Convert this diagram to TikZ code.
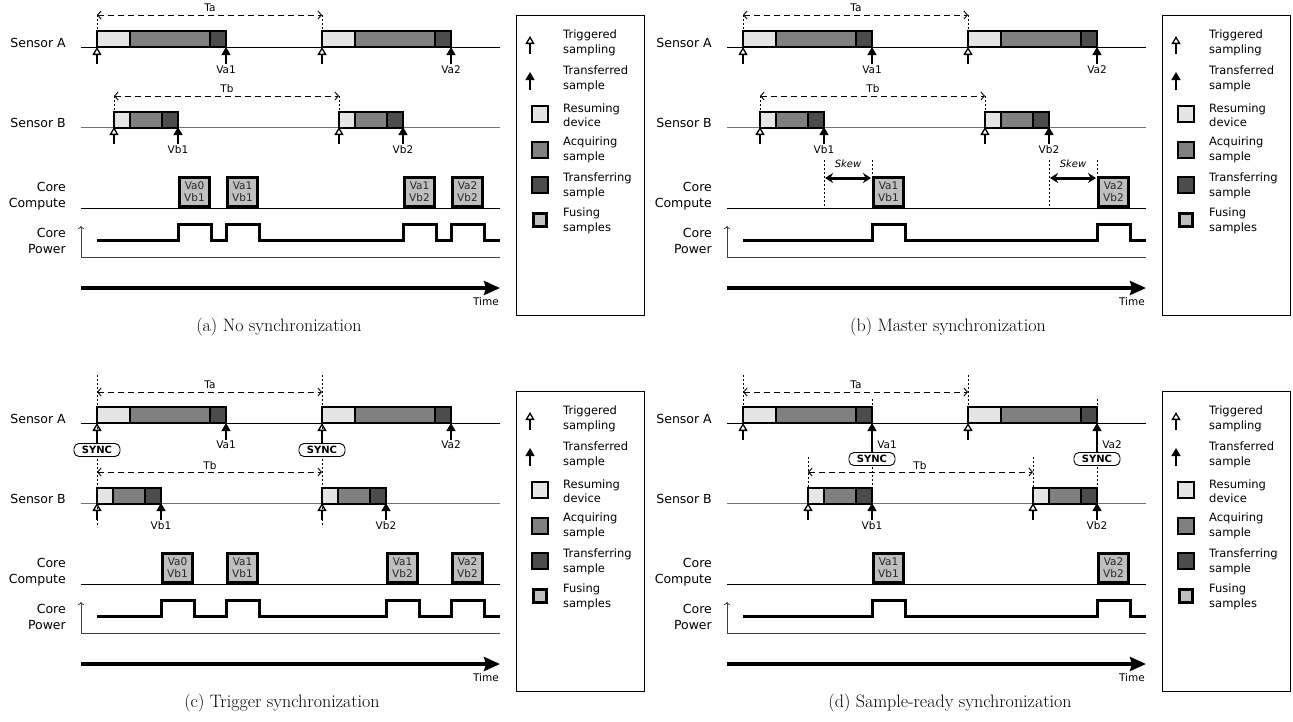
\documentclass[tikz,border=0pt]{standalone}
\usepackage{fontspec}
\newfontfamily\dv{DejaVu Sans}
\usetikzlibrary{arrows.meta}
\tikzset{
  lbl/.style={font=\dv\fontsize{12.5}{15.5}\selectfont, anchor=east, align=right, inner sep=0pt},
  small/.style={font=\dv\fontsize{10.5}{12}\selectfont, inner sep=0pt},
  leg/.style={font=\dv\fontsize{11.5}{14.5}\selectfont, anchor=west, align=left, inner sep=0pt},
  seg/.style={draw=black, line width=1.3pt},
  resume/.style={seg, fill=black!10},
  acquire/.style={seg, fill=black!50},
  transfer/.style={seg, fill=black!70},
  fuse/.style={draw=black, line width=3pt, fill=black!25},
  fusetxt/.style={font=\dv\fontsize{10.5}{12}\selectfont, align=center, text=black!85, inner sep=0pt},
  trig/.style={-{Triangle[open, length=8pt, width=9pt]}, line width=1.3pt},
  xfer/.style={-{Triangle[length=8pt, width=9pt]}, line width=1.3pt},
  period/.style={dash pattern=on 6pt off 4pt, {Straight Barb[length=3.5pt,width=8pt]}-{Straight Barb[length=3.5pt,width=8pt]}, line width=0.9pt},
  vdot/.style={dash pattern=on 2pt off 2pt, line width=1pt},
  power/.style={line width=3pt},
  sync/.style={draw, line width=0.9pt, rounded corners=5pt, font=\dv\bfseries\fontsize{10}{11}\selectfont, inner sep=0pt, minimum width=46pt, minimum height=13pt, fill=white},
  skew/.style={{Stealth[length=8pt,width=10pt]}-{Stealth[length=8pt,width=10pt]}, line width=3pt},
  skewtxt/.style={font=\dv\itshape\fontsize{10}{11}\selectfont, inner sep=0pt},
  caption/.style={font=\fontsize{18}{21}\selectfont},
}
\newcommand\sensA[1]{%
  \draw[resume] (#1,31) rectangle ++(33,16);
  \draw[acquire] (#1+33,31) rectangle ++(80,16);
  \draw[transfer] (#1+113,31) rectangle ++(16,16);}
\newcommand\sensB[1]{%
  \draw[resume] (#1,112) rectangle ++(16,16);
  \draw[acquire] (#1+16,112) rectangle ++(32,16);
  \draw[transfer] (#1+48,112) rectangle ++(16,16);}
\newcommand\fusing[3]{%
  \draw[fuse] (#1+1.5,177.5) rectangle (#1+31.5,206.5);
  \node[fusetxt] at (#1+16.5,192) {#2\\#3};}
\newcommand\legendbox{%
  \draw[line width=1pt] (516,15) rectangle (644,315);
  \draw[trig] (530,54) -- (530,36);
  \node[leg] at (563,43) {Triggered\\sampling};
  \draw[xfer] (530,90) -- (530,72);
  \node[leg] at (563,79) {Transferred\\sample};
  \draw[resume] (532,106) rectangle ++(16,16);
  \node[leg] at (563,115) {Resuming\\device};
  \draw[acquire] (532,142) rectangle ++(16,16);
  \node[leg] at (563,150) {Acquiring\\sample};
  \draw[transfer] (532,177) rectangle ++(16,16);
  \node[leg] at (563,186) {Transferring\\sample};
  \draw[fuse, line width=3pt] (533.5,213.5) rectangle ++(13,13);
  \node[leg] at (563,221) {Fusing\\samples};}
\newcommand\panelframe{%
  \node[lbl] (la) at (66,43) {Sensor A};
  \node[lbl] (lb) at (66,123) {Sensor B};
  \node[lbl] (lc) at (66,196) {Core\\Compute};
  \node[lbl] (lp) at (66,241) {Core\\Power};
  \draw[line width=0.8pt] (81,47) -- (500,47);
  \draw[line width=0.8pt, black!55] (81,127) -- (500,127);
  \draw[line width=0.8pt] (81,208) -- (500,208);
  \draw[line width=0.8pt, black!75] (81,257) -- (500,257);
  \draw[line width=0.8pt, black!75, -{To[length=3pt,width=6pt]}] (81,257) -- (81,226);
  \draw[line width=4pt, -{Stealth[length=16pt,width=14pt,inset=2pt]}] (81,288) -- (500,288);
  \node[small, anchor=east] (tm) at (499,302) {Time};
  \legendbox}
\begin{document}
\begin{tikzpicture}[x=1pt,y=-1pt]
\useasboundingbox (0,0) rectangle (1293,721);
% ---------------- (a) ----------------
\begin{scope}
  \panelframe
  \draw[vdot] (97,15) -- (97,31); \draw[vdot] (322,15) -- (322,31);
  \draw[period] (97,15) -- (322,15); \node[small] at (210,8) {Ta};
  \sensA{97} \sensA{322}
  \draw[trig] (97,64) -- (97,47); \draw[trig] (322,64) -- (322,47);
  \draw[xfer] (226,64) -- (226,47); \node[small] at (226,70) {Va1};
  \draw[xfer] (451,64) -- (451,47); \node[small] at (451,70) {Va2};
  \draw[vdot] (114,96) -- (114,112); \draw[vdot] (339,96) -- (339,112);
  \draw[period] (114,96) -- (339,96); \node[small] at (227,89) {Tb};
  \sensB{114} \sensB{339}
  \draw[trig] (114,144) -- (114,127); \draw[trig] (339,144) -- (339,127);
  \draw[xfer] (178,144) -- (178,127); \node[small] at (178,150) {Vb1};
  \draw[xfer] (403,144) -- (403,127); \node[small] at (403,150) {Vb2};
  \fusing{178}{Va0}{Vb1} \fusing{226}{Va1}{Vb1} \fusing{403}{Va1}{Vb2} \fusing{451}{Va2}{Vb2}
  \draw[power] (97,240) -| (178,224) -| (211,240) -| (226,224) -| (259,240) -| (403,224) -| (436,240) -| (451,224) -| (484,240) -- (500,240);
\end{scope}
\node[caption] (ca) at (279,327) {(a) No synchronization};
% ---------------- (b) ----------------
\begin{scope}[shift={(646,0)}]
  \panelframe
  \draw[vdot] (97,15) -- (97,31); \draw[vdot] (322,15) -- (322,31);
  \draw[period] (97,15) -- (322,15); \node[small] at (210,8) {Ta};
  \sensA{97} \sensA{322}
  \draw[trig] (97,64) -- (97,47); \draw[trig] (322,64) -- (322,47);
  \draw[xfer] (226,64) -- (226,47); \node[small] at (226,70) {Va1};
  \draw[xfer] (451,64) -- (451,47); \node[small] at (451,70) {Va2};
  \draw[vdot] (114,96) -- (114,112); \draw[vdot] (339,96) -- (339,112);
  \draw[period] (114,96) -- (339,96); \node[small] at (227,89) {Tb};
  \sensB{114} \sensB{339}
  \draw[trig] (114,144) -- (114,127); \draw[trig] (339,144) -- (339,127);
  \draw[xfer] (178,144) -- (178,127); \node[small] at (178,150) {Vb1};
  \draw[xfer] (403,144) -- (403,127); \node[small] at (403,150) {Vb2};
  \draw[vdot] (178,160) -- (178,208); \draw[vdot] (226,160) -- (226,177);
  \draw[vdot] (403,160) -- (403,208); \draw[vdot] (451,160) -- (451,177);
  \fusing{226}{Va1}{Vb1} \fusing{451}{Va2}{Vb2}
  \draw[skew] (179,178) -- (225,178); \node[skewtxt] at (202,164) {Skew};
  \draw[skew] (404,178) -- (450,178); \node[skewtxt] at (427,164) {Skew};
  \draw[power] (97,240) -| (226,224) -| (259,240) -| (451,224) -| (484,240) -- (500,240);
\end{scope}
\node[caption] (cb) at (948,327) {(b) Master synchronization};
% ---------------- (c) ----------------
\begin{scope}[shift={(0,376)}]
  \panelframe
  \draw[vdot] (97,-1) -- (97,151); \draw[vdot] (322,-1) -- (322,151);
  \draw[period] (97,16) -- (322,16); \node[small] at (210,9) {Ta};
  \sensA{97} \sensA{322}
  \node[sync] (s1) at (97,74) {SYNC}; \node[sync] (s2) at (322,74) {SYNC};
  \draw[trig] (s1.north) -- (97,47); \draw[trig] (s2.north) -- (322,47);
  \draw[xfer] (226,64) -- (226,47); \node[small] at (226,69) {Va1};
  \draw[xfer] (451,64) -- (451,47); \node[small] at (451,69) {Va2};
  \draw[period] (97,96) -- (322,96); \node[small] at (210,90) {Tb};
  \sensB{97} \sensB{322}
  \draw[trig] (97,144) -- (97,127); \draw[trig] (322,144) -- (322,127);
  \draw[xfer] (161,144) -- (161,127); \node[small] at (161,150) {Vb1};
  \draw[xfer] (386,144) -- (386,127); \node[small] at (386,150) {Vb2};
  \fusing{161}{Va0}{Vb1} \fusing{226}{Va1}{Vb1} \fusing{386}{Va1}{Vb2} \fusing{451}{Va2}{Vb2}
  \draw[power] (97,240) -| (161,224) -| (194,240) -| (226,224) -| (259,240) -| (386,224) -| (419,240) -| (451,224) -| (484,240) -- (500,240);
\end{scope}
\node[caption] (cc) at (282,703) {(c) Trigger synchronization};
% ---------------- (d) ----------------
\begin{scope}[shift={(646,376)}]
  \panelframe
  \draw[vdot] (97,-1) -- (97,31); \draw[vdot] (322,-1) -- (322,31);
  \draw[period] (97,16) -- (322,16); \node[small] at (210,9) {Ta};
  \sensA{97} \sensA{322}
  \draw[trig] (97,64) -- (97,47); \draw[trig] (322,64) -- (322,47);
  \draw[vdot] (226,23) -- (226,128); \draw[vdot] (451,23) -- (451,128);
  \node[sync] (s3) at (226,83) {SYNC}; \node[sync] (s4) at (451,83) {SYNC};
  \draw[xfer] (s3.north) -- (226,47); \node[small] at (241,69) {Va1};
  \draw[xfer] (s4.north) -- (451,47); \node[small] at (466,69) {Va2};
  \draw[vdot] (162,81) -- (162,112); \draw[vdot] (387,81) -- (387,112);
  \draw[period] (162,96) -- (387,96); \node[small] at (274,90) {Tb};
  \sensB{162} \sensB{387}
  \draw[trig] (162,144) -- (162,127); \draw[trig] (387,144) -- (387,127);
  \draw[xfer] (226,144) -- (226,127); \node[small] at (226,150) {Vb1};
  \draw[xfer] (451,144) -- (451,127); \node[small] at (451,150) {Vb2};
  \fusing{226}{Va1}{Vb1} \fusing{451}{Va2}{Vb2}
  \draw[power] (97,240) -| (226,224) -| (259,240) -| (451,224) -| (484,240) -- (500,240);
\end{scope}
\node[caption] (cd) at (950,703) {(d) Sample-ready synchronization};
\end{tikzpicture}
\end{document}
